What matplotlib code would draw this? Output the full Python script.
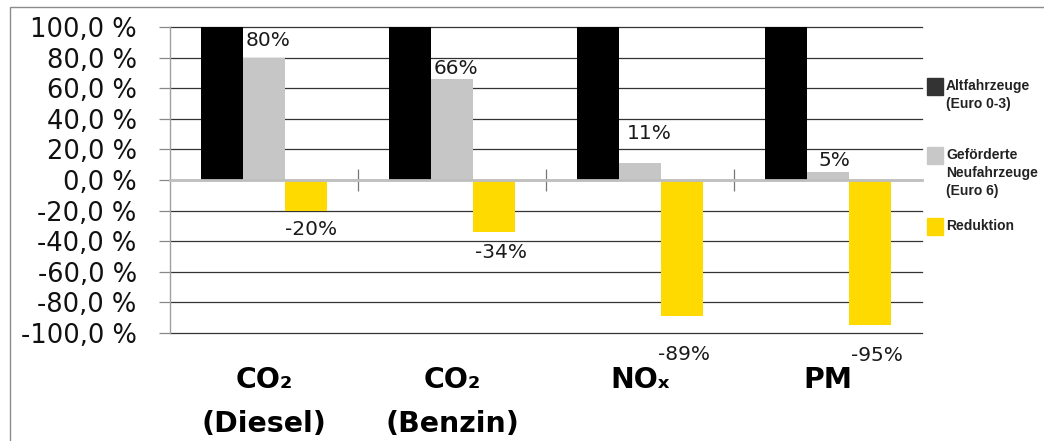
import numpy as np
import matplotlib
matplotlib.use("Agg")
import matplotlib.pyplot as plt
import matplotlib.transforms as mtransforms
from matplotlib.patches import Rectangle

# Daten
kategorien = ["CO\u2082\n(Diesel)", "CO\u2082\n(Benzin)", "NO\u2093", "PM"]
altfahrzeuge = [100, 100, 100, 100]
neufahrzeuge = [80, 66, 11, 5]
reduktion = [-20, -34, -89, -95]
serien = ["Altfahrzeuge\n(Euro 0-3)", "Geförderte\nNeufahrzeuge\n(Euro 6)", "Reduktion"]

# Farben / Stil
farben_balken = ["#000000", "#c6c6c6", "#ffda00"]
farben_legende = ["#333333", "#c8c8c8", "#ffd700"]
# Label-Versatz in Pixeln (dx, dy) relativ zum Balkenende
versatz_neu = [(4, 17), (4, 11), (9, 30), (6, 12)]
versatz_red = [(5, -19), (7, -20), (2, -38), (7, -30)]

fig = plt.figure(figsize=(10.44, 4.41), dpi=100)
ax = fig.add_axes([170 / 1044, 1 - 333 / 441, 752 / 1044, 306 / 441])

x = np.arange(len(kategorien))
w = 0.222
ax.bar(x - w, altfahrzeuge, w, color=farben_balken[0], zorder=2)
ax.bar(x, neufahrzeuge, w, color=farben_balken[1], zorder=2)
ax.bar(x + w, reduktion, w, color=farben_balken[2], zorder=2)

ax.set_xlim(-0.5, len(kategorien) - 0.5)
ax.set_ylim(-100, 100)
ticks = np.arange(-100, 101, 20)
ax.set_yticks(ticks)
ax.set_yticklabels([f"{t:.1f}".replace(".", ",") + " %" for t in ticks],
                   fontsize=18.5, family="DejaVu Sans", color="#111111")
ax.tick_params(axis="y", length=8, width=0.9, color="#888888", pad=16)

ax.grid(axis="y", color="#333333", lw=0.9, zorder=0)
for gl in ax.get_ygridlines():
    gl.set_clip_on(False)

for s in ["top", "right"]:
    ax.spines[s].set_visible(False)
ax.spines["left"].set_color("#a0a0a0")
ax.spines["left"].set_linewidth(1)
ax.spines["bottom"].set_position(("data", 0))
ax.spines["bottom"].set_color("#bfbfbf")
ax.spines["bottom"].set_linewidth(2)
ax.spines["bottom"].set_zorder(3)

ax.set_xticks([])
ax.set_xticks(x[:-1] + 0.5, minor=True)
ax.tick_params(axis="x", which="minor", direction="inout", length=16,
               width=0.9, color="#777777")

# Datenbeschriftungen
for i in range(len(kategorien)):
    ax.annotate(f"{neufahrzeuge[i]}%", (x[i], neufahrzeuge[i]),
                xytext=versatz_neu[i], textcoords="offset pixels",
                ha="center", va="center", fontsize=14.5, color="#1a1a1a")
    ax.annotate(f"{reduktion[i]}%", (x[i] + w, reduktion[i]),
                xytext=versatz_red[i], textcoords="offset pixels",
                ha="center", va="center", fontsize=14.5, color="#1a1a1a",
                annotation_clip=False)

# Kategorien unter der Achse
trans = mtransforms.blended_transform_factory(ax.transData, ax.transAxes)
for i, k in enumerate(kategorien):
    ax.text(x[i], -0.108, k, transform=trans, ha="center", va="top",
            fontsize=20.4, fontweight="bold", family="DejaVu Sans",
            linespacing=1.72, color="#000000")

# Legende (Quadrat oben am Text ausgerichtet)
leg_y = [78, 147, 218]
for i, name in enumerate(serien):
    fig.add_artist(Rectangle((927 / 1044, 1 - (leg_y[i] + 17) / 441),
                             16 / 1044, 17 / 441, transform=fig.transFigure,
                             color=farben_legende[i]))
    fig.text(946 / 1044, 1 - (leg_y[i] + 1) / 441, name, ha="left", va="top",
             fontsize=10, fontweight="bold", family="Liberation Sans",
             linespacing=1.35, color="#222222")

# Rahmen
fig.add_artist(Rectangle((10 / 1044, -0.2), 1.2, 1.2 - 7 / 441,
                         transform=fig.transFigure, fill=False,
                         edgecolor="#8c8c8c", lw=1))

fig.savefig("out.png", dpi=100)
